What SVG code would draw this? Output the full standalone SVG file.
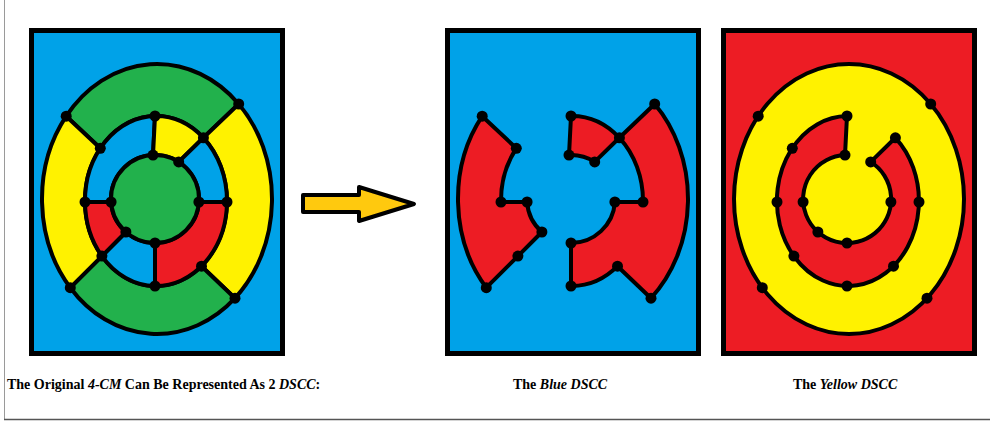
<svg xmlns="http://www.w3.org/2000/svg" xmlns:xlink="http://www.w3.org/1999/xlink" width="990" height="421" viewBox="0 0 990 421">
<style>
.panel{stroke:#000;stroke-width:5}
.reg{stroke:#000;stroke-width:4;stroke-linejoin:round}
.blue{fill:#00A2E8}.green{fill:#22B14C}.yellow{fill:#FFF200}.red{fill:#ED1C24}
.dot{fill:#000}
.cap{font-family:"Liberation Serif","Times New Roman",serif;font-size:14px;font-weight:bold;fill:#000}
.it{font-style:italic}
</style>
<defs>
<g id="dots">
<circle class="dot" cx="66.2" cy="116.2" r="5.5"/>
<circle class="dot" cx="238.7" cy="104" r="5.5"/>
<circle class="dot" cx="70.3" cy="287.7" r="5.5"/>
<circle class="dot" cx="235" cy="298.2" r="5.5"/>
<circle class="dot" cx="100.3" cy="148.3" r="5.5"/>
<circle class="dot" cx="155" cy="116" r="5.5"/>
<circle class="dot" cx="203.4" cy="137.8" r="5.5"/>
<circle class="dot" cx="85" cy="202" r="5.5"/>
<circle class="dot" cx="227" cy="202" r="5.5"/>
<circle class="dot" cx="101.9" cy="256.1" r="5.5"/>
<circle class="dot" cx="155" cy="286" r="5.5"/>
<circle class="dot" cx="201.5" cy="266.2" r="5.5"/>
<circle class="dot" cx="153" cy="155.1" r="5.5"/>
<circle class="dot" cx="178.7" cy="161.9" r="5.5"/>
<circle class="dot" cx="111.1" cy="202" r="5.5"/>
<circle class="dot" cx="198.9" cy="202" r="5.5"/>
<circle class="dot" cx="125.9" cy="232" r="5.5"/>
<circle class="dot" cx="155" cy="243" r="5.5"/>
</g>
</defs>
<rect width="990" height="421" fill="#fff"/>
<line x1="4.5" y1="0" x2="4.5" y2="419" stroke="#9a9a9a" stroke-width="1"/>
<line x1="4" y1="419.5" x2="990" y2="419.5" stroke="#555" stroke-width="1.5"/>

<g id="original-4cm">
<rect class="panel blue" x="31.5" y="30.5" width="251" height="323"/>
<path class="reg green" d="M66.2,116.2 A115,135 0 0 1 238.7,104 L203.4,137.8 A71,85 0 0 0 100.3,148.3 Z"/>
<path class="reg yellow" d="M238.7,104 A115,135 0 0 1 235,298.2 L201.5,266.2 A71,85 0 0 0 203.4,137.8 Z"/>
<path class="reg green" d="M235,298.2 A115,135 0 0 1 70.3,287.7 L101.9,256.1 A71,85 0 0 0 201.5,266.2 Z"/>
<path class="reg yellow" d="M70.3,287.7 A115,135 0 0 1 66.2,116.2 L100.3,148.3 A71,85 0 0 0 101.9,256.1 Z"/>
<path class="reg blue" d="M85,202 A71,85 0 0 1 155,116 L153,155.1 A44,44 0 0 0 111.1,202 Z"/>
<path class="reg yellow" d="M155,116 A71,85 0 0 1 203.4,137.8 L178.7,161.9 A44,44 0 0 0 153,155.1 Z"/>
<path class="reg blue" d="M203.4,137.8 A71,85 0 0 1 227,202 L198.9,202 A44,44 0 0 0 178.7,161.9 Z"/>
<path class="reg red" d="M227,202 A71,85 0 0 1 155,286 L155,243 A44,44 0 0 0 198.9,202 Z"/>
<path class="reg blue" d="M155,286 A71,85 0 0 1 101.9,256.1 L125.9,232 A44,44 0 0 0 155,243 Z"/>
<path class="reg red" d="M101.9,256.1 A71,85 0 0 1 85,202 L111.1,202 A44,44 0 0 0 125.9,232 Z"/>
<circle class="reg green" cx="155" cy="199" r="44"/>
<use xlink:href="#dots" href="#dots"/>
</g>

<g id="arrow">
<polygon points="303,195 359,195 359,187 414,204 359,221 359,212 303,212" fill="#FFC90E" stroke="#000" stroke-width="4" stroke-linejoin="round"/>
</g>

<g id="blue-dscc" transform="translate(416,0)">
<rect class="panel blue" x="31.5" y="30.5" width="251" height="323"/>
<path class="reg red" d="M66.2,116.2 L100.3,148.3 A71,85 0 0 0 85,202 L111.1,202 A44,44 0 0 0 125.9,232 L101.9,256.1 L70.3,287.7 A115,135 0 0 1 66.2,116.2 Z"/>
<path class="reg red" d="M238.7,104 A115,135 0 0 1 235,298.2 L201.5,266.2 A71,85 0 0 1 155,286 L155,243 A44,44 0 0 0 198.9,202 L227,202 A71,85 0 0 0 203.4,137.8 Z"/>
<path class="reg red" d="M155,116 A71,85 0 0 1 203.4,137.8 L178.7,161.9 A44,44 0 0 0 153,155.1 Z"/>
<use xlink:href="#dots" href="#dots"/>
</g>

<g id="yellow-dscc" transform="translate(692,0)">
<rect class="panel red" x="31.5" y="30.5" width="251" height="323"/>
<ellipse class="reg yellow" cx="157" cy="199" rx="115" ry="135"/>
<path class="reg red" d="M155,116 A71,85 0 1 0 203.4,137.8 L178.7,161.9 A44,44 0 1 1 153,155.1 Z"/>
<use xlink:href="#dots" href="#dots"/>
</g>

<g id="captions">
<text class="cap" x="7" y="388.5">The Original <tspan class="it">4-CM</tspan> Can Be Represented As 2 <tspan class="it">DSCC</tspan>:</text>
<text class="cap" x="513" y="388.5">The <tspan class="it">Blue DSCC</tspan></text>
<text class="cap" x="793" y="388.5">The <tspan class="it">Yellow DSCC</tspan></text>
</g>
</svg>
